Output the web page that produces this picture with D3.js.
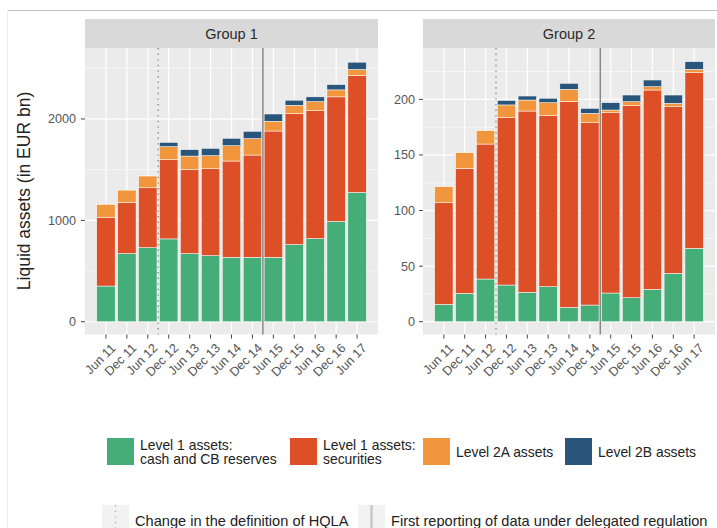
<!DOCTYPE html>
<html lang="en">
<head>
    <meta charset="UTF-8">
    <title>Liquid assets by group</title>
    <script src="https://d3js.org/d3.v7.min.js"></script>
    <style>
        body { margin: 0; background: #fff; }
        svg text { font-family: "Liberation Sans", Arial, sans-serif; }
    </style>
</head>
<body>
    <div id="chart"></div>

    <script>
        // Reporting dates (x axis)
        var periods = ["Jun 11", "Dec 11", "Jun 12", "Dec 12", "Jun 13", "Dec 13", "Jun 14",
                       "Dec 14", "Jun 15", "Dec 15", "Jun 16", "Dec 16", "Jun 17"];

        // Group 1 values (EUR bn), one array per asset class
        var g1Cash   = [352, 672, 731, 817, 672, 652, 636, 636, 636, 761, 820, 989, 1275];
        var g1Secs   = [679, 504, 590, 781, 831, 857, 949, 1008, 1245, 1292, 1262, 1229, 1154];
        var g1Level2A = [126, 122, 116, 129, 131, 129, 151, 162, 96, 82, 89, 69, 59];
        var g1Level2B = [0, 0, 0, 42, 63, 72, 73, 72, 72, 50, 47, 52, 72];

        // Group 2 values (EUR bn)
        var g2Cash   = [15.6, 25.5, 38.4, 33, 26.4, 31.5, 12.9, 15, 25.8, 21.6, 29.1, 43.5, 66];
        var g2Secs   = [91.4, 112.5, 121.4, 150.5, 163.1, 153.8, 185.1, 164, 162.2, 172.7, 179.3, 149.9, 158];
        var g2Level2A = [14.4, 14, 12, 11.5, 9.9, 11.7, 11, 8.4, 2.4, 3.6, 3, 3, 3];
        var g2Level2B = [0, 0, 0, 4, 3.6, 4, 5.4, 4.5, 6.6, 6, 6, 7.5, 6.9];

        var seriesKeys = ["cash", "secs", "l2a", "l2b"];
        var seriesLabels = [["Level 1 assets:", "cash and CB reserves"], ["Level 1 assets:", "securities"],
                            ["Level 2A assets"], ["Level 2B assets"]];
        var seriesColors = ["#44ad78", "#dd4f26", "#f1963c", "#29557a"];

        var g1Ticks = [0, 1000, 2000];
        var g1Minor = [500, 1500, 2500];
        var g2Ticks = [0, 50, 100, 150, 200];
        var g2Minor = [25, 75, 125, 175, 225];

        // break markers: between these periods
        var hqlaChange = ["Jun 12", "Dec 12"];
        var delegatedReg = ["Dec 14", "Jun 15"];

        function rows(cash, secs, l2a, l2b) {
            return periods.map(function(p, i) {
                return { period: p, cash: cash[i], secs: secs[i], l2a: l2a[i], l2b: l2b[i] };
            });
        }

        var groups = [
            { name: "Group 1", data: rows(g1Cash, g1Secs, g1Level2A, g1Level2B),
              left: 85, right: 378, domain: [-126, 2700], ticks: g1Ticks, minor: g1Minor, labelX: 76 },
            { name: "Group 2", data: rows(g2Cash, g2Secs, g2Level2A, g2Level2B),
              left: 423, right: 715, domain: [-11.5, 246.2], ticks: g2Ticks, minor: g2Minor, labelX: 415 }
        ];

        var width = 717, height = 528;
        var panelTop = 48, panelBottom = 334.5, stripTop = 19;

        var svg = d3.select("#chart").append("svg")
            .attr("width", width)
            .attr("height", height);

        // frame lines of the original figure
        svg.append("line").attr("x1", 8).attr("x2", width).attr("y1", 10.5).attr("y2", 10.5)
            .attr("stroke", "#c4c4c4").attr("stroke-width", 1);
        svg.append("line").attr("x1", 7.5).attr("x2", 7.5).attr("y1", 10).attr("y2", height)
            .attr("stroke", "#efefef").attr("stroke-width", 1);

        var stack = d3.stack().keys(seriesKeys);

        groups.forEach(function(g) {
            var x = d3.scaleBand()
                .domain(periods)
                .range([g.left, g.right])
                .paddingInner(0.12)
                .paddingOuter(0.56);
            var y = d3.scaleLinear().domain(g.domain).range([panelBottom, panelTop]);
            var mid = function(p) { return x(p) + x.bandwidth() / 2; };

            var panel = svg.append("g");

            // strip
            panel.append("rect")
                .attr("x", g.left).attr("y", stripTop)
                .attr("width", g.right - g.left).attr("height", panelTop - stripTop)
                .attr("fill", "#d9d9d9");
            panel.append("text")
                .attr("x", (g.left + g.right) / 2).attr("y", (stripTop + panelTop) / 2 + 5)
                .attr("text-anchor", "middle")
                .attr("font-size", 14.5)
                .attr("fill", "#2b2b2b")
                .text(g.name);

            // background + grid
            panel.append("rect")
                .attr("x", g.left).attr("y", panelTop)
                .attr("width", g.right - g.left).attr("height", panelBottom - panelTop)
                .attr("fill", "#ebebeb");
            panel.selectAll(".minor").data(g.minor).enter().append("line")
                .attr("x1", g.left).attr("x2", g.right)
                .attr("y1", function(d) { return y(d); }).attr("y2", function(d) { return y(d); })
                .attr("stroke", "#fff").attr("stroke-width", 0.6);
            panel.selectAll(".major").data(g.ticks).enter().append("line")
                .attr("x1", g.left).attr("x2", g.right)
                .attr("y1", function(d) { return y(d); }).attr("y2", function(d) { return y(d); })
                .attr("stroke", "#fff").attr("stroke-width", 1.2);
            panel.selectAll(".vgrid").data(periods).enter().append("line")
                .attr("x1", mid).attr("x2", mid)
                .attr("y1", panelTop).attr("y2", panelBottom)
                .attr("stroke", "#fff").attr("stroke-width", 1.2);

            // stacked bars
            var layers = stack(g.data);
            panel.selectAll(".layer").data(layers).enter().append("g")
                .attr("fill", function(d, i) { return seriesColors[i]; })
                .selectAll("rect").data(function(d) { return d; }).enter().append("rect")
                .attr("x", function(d) { return x(d.data.period); })
                .attr("width", x.bandwidth())
                .attr("y", function(d) { return y(d[1]); })
                .attr("height", function(d) { return Math.max(0, y(d[0]) - y(d[1])); })
                .attr("stroke", "#fff").attr("stroke-width", 0.5);

            // regime change markers
            var xDot = (mid(hqlaChange[0]) + mid(hqlaChange[1])) / 2;
            var xSolid = (mid(delegatedReg[0]) + mid(delegatedReg[1])) / 2;
            panel.append("line")
                .attr("x1", xDot).attr("x2", xDot).attr("y1", panelTop).attr("y2", panelBottom)
                .attr("stroke", "#8f8f8f").attr("stroke-width", 1.4)
                .attr("stroke-dasharray", "1.4,4.2");
            panel.append("line")
                .attr("x1", xSolid).attr("x2", xSolid).attr("y1", panelTop).attr("y2", panelBottom)
                .attr("stroke", "#8a8a8a").attr("stroke-width", 1.5);

            // y axis
            panel.selectAll(".ytick").data(g.ticks).enter().append("line")
                .attr("x1", g.left - 4).attr("x2", g.left)
                .attr("y1", function(d) { return y(d); }).attr("y2", function(d) { return y(d); })
                .attr("stroke", "#444").attr("stroke-width", 1);
            panel.selectAll(".ylab").data(g.ticks).enter().append("text")
                .attr("x", g.labelX)
                .attr("y", function(d) { return y(d) + 4.5; })
                .attr("text-anchor", "end")
                .attr("font-size", 12.6)
                .attr("fill", "#555")
                .text(function(d) { return d; });

            // x axis
            panel.selectAll(".xtick").data(periods).enter().append("line")
                .attr("x1", mid).attr("x2", mid)
                .attr("y1", panelBottom).attr("y2", panelBottom + 4)
                .attr("stroke", "#444").attr("stroke-width", 1);
            panel.selectAll(".xlab").data(periods).enter().append("text")
                .attr("transform", function(d) { return "translate(" + (mid(d) + 4) + "," + (panelBottom + 8) + ") rotate(-45)"; })
                .attr("text-anchor", "end")
                .attr("dy", "0.72em")
                .attr("font-size", 12.6)
                .attr("fill", "#555")
                .text(function(d) { return d; });
        });

        // y axis title
        svg.append("text")
            .attr("transform", "translate(30,191) rotate(-90)")
            .attr("text-anchor", "middle")
            .attr("font-size", 17.5)
            .attr("fill", "#222")
            .text("Liquid assets (in EUR bn)");

        // fill legend
        var legendX = [107, 290, 423, 565];
        var legend = svg.append("g");
        seriesKeys.forEach(function(k, i) {
            legend.append("rect")
                .attr("x", legendX[i]).attr("y", 438)
                .attr("width", 27).attr("height", 27)
                .attr("fill", seriesColors[i]);
            var lines = seriesLabels[i];
            lines.forEach(function(s, j) {
                legend.append("text")
                    .attr("x", legendX[i] + 33)
                    .attr("y", lines.length === 1 ? 457 : 449.5 + j * 14.5)
                    .attr("font-size", 13.9)
                    .attr("fill", "#222")
                    .text(s);
            });
        });

        // line legend
        var lineLegend = [
            { label: "Change in the definition of HQLA", x: 102, dash: "1.4,4.2" },
            { label: "First reporting of data under delegated regulation", x: 358, dash: null }
        ];
        lineLegend.forEach(function(l) {
            legend.append("rect")
                .attr("x", l.x).attr("y", 505)
                .attr("width", 27).attr("height", 27)
                .attr("fill", "#f2f2f2");
            legend.append("line")
                .attr("x1", l.x + 13.5).attr("x2", l.x + 13.5)
                .attr("y1", 505).attr("y2", 532)
                .attr("stroke", l.dash ? "#b5b5b5" : "#c8c8c8")
                .attr("stroke-width", l.dash ? 1.4 : 2.5)
                .attr("stroke-dasharray", l.dash);
            legend.append("text")
                .attr("x", l.x + 33).attr("y", 525.5)
                .attr("font-size", 14.6)
                .attr("fill", "#222")
                .text(l.label);
        });
    </script>
</body>
</html>
